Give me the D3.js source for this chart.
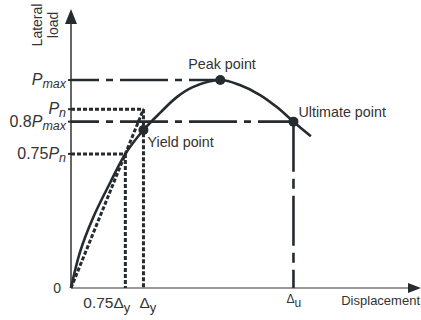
<!DOCTYPE html>
<html>
<head>
<meta charset="utf-8">
<script src="https://cdn.jsdelivr.net/npm/d3@7"></script>
<style>
  body { margin: 0; background: #fff; }
  text { font-family: "Liberation Sans", Arial, sans-serif; fill: #333; }
</style>
</head>
<body>
<svg id="chart"></svg>
<script>
// displacement in units of Δy, load in units of Pmax
const curveX = [0, 0.124, 0.303, 0.538, 0.75, 1.0, 1.24, 1.46, 1.68, 2.06, 2.33, 2.61, 2.84, 3.07, 3.31];
const curveY = [0, 0.173, 0.337, 0.505, 0.645, 0.76, 0.846, 0.918, 0.966, 1.0, 0.976, 0.928, 0.87, 0.80, 0.73];

const yTickVals = [1.0, 0.86, 0.8, 0.645];
const yTickPre = ["", "", "0.8", "0.75"];
const yTickSub = ["max", "n", "max", "n"];

const xTickVals = [0.75, 1.0, 3.07];
const xTickMain = ["0.75\u0394", "\u0394", "\u0394"];
const xTickSub = ["y", "y", "u"];

const pointNames = ["Yield point", "Peak point", "Ultimate point"];
const pointX = [1.0, 2.06, 3.07];
const pointY = [0.76, 1.0, 0.80];

const width = 421, height = 320;
const ink = "#262b30";

const svg = d3.select("#chart").attr("width", width).attr("height", height);

const x = d3.scaleLinear().domain([0, 4.83]).range([71, 421]);
const y = d3.scaleLinear().domain([0, 1.337]).range([288, 10]);

const curve = curveX.map((d, i) => [d, curveY[i]]);
const line = d3.line().x(d => x(d[0])).y(d => y(d[1])).curve(d3.curveCatmullRom.alpha(0.5));

// axes
svg.append("line")
  .attr("x1", x(0)).attr("y1", y(0)).attr("x2", x(0)).attr("y2", y(1.337) + 8)
  .attr("stroke", "#333").attr("stroke-width", 1.5);
svg.append("line")
  .attr("x1", x(0)).attr("y1", y(0)).attr("x2", x(4.83) - 8).attr("y2", y(0))
  .attr("stroke", "#777").attr("stroke-width", 1.6);
svg.append("path")
  .attr("d", `M${x(0)},${y(1.337) - 1} L${x(0) - 6},${y(1.337) + 14} L${x(0) + 6},${y(1.337) + 14} Z`)
  .attr("fill", ink);
svg.append("path")
  .attr("d", `M${x(4.83)},${y(0)} L${x(4.83) - 13},${y(0) - 5} L${x(4.83) - 13},${y(0) + 5} Z`)
  .attr("fill", ink);

// y ticks
svg.selectAll(".ytick").data(yTickVals).join("line")
  .attr("class", "ytick")
  .attr("x1", x(0) - 3).attr("x2", x(0))
  .attr("y1", d => y(d)).attr("y2", d => y(d))
  .attr("stroke", ink).attr("stroke-width", 2);

// long dashed lines: Pmax, 0.8Pmax, Δu
const dashLong = "48,7,7,7";
svg.append("line")
  .attr("x1", x(0)).attr("y1", y(1.0)).attr("x2", x(2.06)).attr("y2", y(1.0))
  .attr("stroke", ink).attr("stroke-width", 2.6)
  .attr("stroke-dasharray", dashLong).attr("stroke-dashoffset", 20);
svg.append("line")
  .attr("x1", x(0)).attr("y1", y(0.8)).attr("x2", x(3.07)).attr("y2", y(0.8))
  .attr("stroke", ink).attr("stroke-width", 2.6)
  .attr("stroke-dasharray", dashLong).attr("stroke-dashoffset", 20);
svg.append("line")
  .attr("x1", x(3.07)).attr("y1", y(0.8)).attr("x2", x(3.07)).attr("y2", y(0))
  .attr("stroke", ink).attr("stroke-width", 2.6)
  .attr("stroke-dasharray", "50,7,10,7");

// dotted construction lines
const dotted = [
  [[0, 0.86], [1.0, 0.86]],
  [[1.0, 0.86], [1.0, 0]],
  [[0, 0.645], [0.75, 0.645]],
  [[0.75, 0.645], [0.75, 0]],
  [[0, 0], [1.0, 0.86]]
];
svg.selectAll(".dotted").data(dotted).join("line")
  .attr("class", "dotted")
  .attr("x1", d => x(d[0][0])).attr("y1", d => y(d[0][1]))
  .attr("x2", d => x(d[1][0])).attr("y2", d => y(d[1][1]))
  .attr("stroke", ink).attr("stroke-width", 3)
  .attr("stroke-dasharray", "4,2");

// load-displacement curve
svg.append("path")
  .datum(curve)
  .attr("d", line)
  .attr("fill", "none")
  .attr("stroke", ink)
  .attr("stroke-width", 2.6);

// characteristic points
svg.selectAll(".pt").data(pointX).join("circle")
  .attr("class", "pt")
  .attr("cx", d => x(d))
  .attr("cy", (d, i) => y(pointY[i]))
  .attr("r", 5)
  .attr("fill", ink);

const labelPos = [[4, 17], [-32, -11], [5, -5]];
svg.selectAll(".ptlabel").data(pointNames).join("text")
  .attr("class", "ptlabel")
  .attr("x", (d, i) => x(pointX[i]) + labelPos[i][0])
  .attr("y", (d, i) => y(pointY[i]) + labelPos[i][1])
  .style("font-size", "14.3px")
  .text(d => d);

// y tick labels
const yl = svg.selectAll(".ylab").data(yTickVals).join("text")
  .attr("class", "ylab")
  .attr("x", x(0) - 5)
  .attr("y", d => y(d) + 5)
  .attr("text-anchor", "end")
  .style("font-size", "16px");
yl.append("tspan")
  .text((d, i) => yTickPre[i]);
yl.append("tspan")
  .style("font-style", "italic")
  .text("P");
yl.append("tspan")
  .style("font-style", "italic")
  .style("font-size", "12.5px")
  .attr("dy", 3)
  .text((d, i) => yTickSub[i]);

svg.append("text")
  .attr("x", x(0) - 10).attr("y", y(0) + 5)
  .attr("text-anchor", "end")
  .style("font-size", "14px")
  .text("0");

// x tick labels
const xl = svg.selectAll(".xlab").data(xTickVals).join("text")
  .attr("class", "xlab")
  .attr("x", (d, i) => i === 0 ? x(d) + 5 : i === 1 ? x(d) - 4 : x(d) - 7)
  .attr("y", (d, i) => i === 2 ? y(0) + 15 : y(0) + 20)
  .attr("text-anchor", (d, i) => i === 0 ? "end" : "start")
  .style("font-size", (d, i) => i === 2 ? "12px" : "15.5px");
xl.append("tspan").text((d, i) => xTickMain[i]);
xl.append("tspan")
  .attr("dy", 4)
  .style("font-size", (d, i) => i === 2 ? "12px" : "13px")
  .text((d, i) => xTickSub[i]);

svg.append("text")
  .attr("x", 420).attr("y", y(0) + 17)
  .attr("text-anchor", "end")
  .style("font-size", "13px")
  .text("Displacement");

// y axis title
const yt = svg.append("text")
  .attr("transform", "translate(42,25) rotate(-90)")
  .attr("text-anchor", "middle")
  .style("font-size", "14px");
yt.append("tspan").attr("x", 0).attr("y", 0).text("Lateral");
yt.append("tspan").attr("x", 0).attr("y", 16).text("load");
</script>
</body>
</html>
